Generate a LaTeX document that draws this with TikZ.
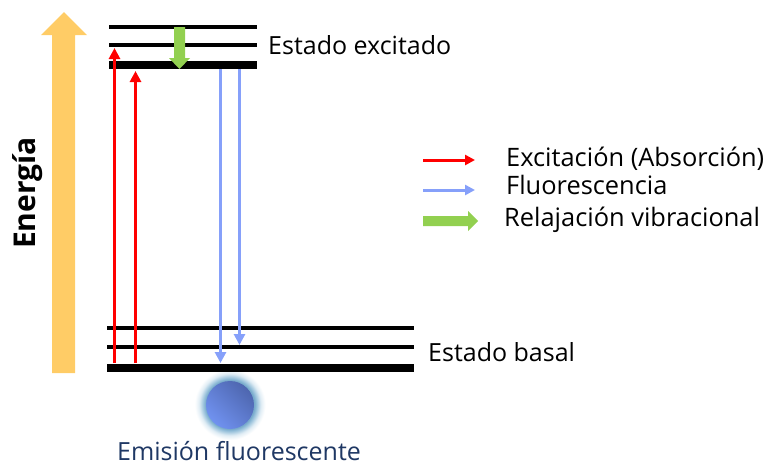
\documentclass[tikz,border=0pt]{standalone}
\usepackage{fontspec}
\setmainfont{Open Sans}
\usetikzlibrary{arrows.meta,shadings}
\definecolor{exred}{RGB}{255,0,0}
\definecolor{flblue}{RGB}{134,160,250}
\definecolor{vibgreen}{RGB}{146,208,80}
\definecolor{enorange}{RGB}{255,204,102}
\definecolor{emnavy}{RGB}{31,56,100}
\definecolor{disclight}{RGB}{112,146,240}
\definecolor{discdark}{RGB}{78,102,175}
\pgfdeclareradialshading{emitglow}{\pgfpoint{0bp}{0bp}}{
  rgb(0bp)=(0.47,0.67,0.80);
  rgb(17bp)=(0.47,0.67,0.80);
  rgb(18.5bp)=(0.60,0.76,0.86);
  rgb(21.5bp)=(0.88,0.93,0.96);
  rgb(24.5bp)=(1,1,1);
  rgb(50bp)=(1,1,1)}
\tikzset{
  level/.style={line width=#1,black,line cap=butt},
  exarrow/.style={exred,line width=3pt,-{Triangle[length=11pt,width=11pt]}},
  flarrow/.style={flblue,line width=3pt,-{Triangle[length=11pt,width=11pt]}},
  lab/.style={anchor=west,inner sep=0pt,text=black,font=\fontsize{25}{30}\selectfont},
  keylab/.style={lab,font=\fontsize{25.4}{30}\selectfont}
}
\begin{document}
\begin{tikzpicture}[x=1pt,y=-1pt]
\useasboundingbox (0,0) rectangle (767,464);
% glow first, so that the levels lie over its white rim
\shade[shading=emitglow] (230,404.5) circle (36);
% energy arrow
\fill[enorange] (52,373) -- (75,373) -- (75,35) -- (87,35) -- (64,12) -- (41,35) -- (52,35) -- cycle;
\node[rotate=90,font=\bfseries\fontsize{30}{34}\selectfont] (energia) at (28,193) {Energía};
% upper levels
\coordinate (u1a) at (109,27); \coordinate (u1b) at (257,27);
\coordinate (u2a) at (109,45); \coordinate (u2b) at (257,45);
\coordinate (u3a) at (109,65); \coordinate (u3b) at (257,65);
\draw[level=4pt] (u1a) -- (u1b);
\draw[level=4pt] (u2a) -- (u2b);
\draw[level=8pt] (u3a) -- (u3b);
% lower levels
\coordinate (l1a) at (107,328); \coordinate (l1b) at (414,328);
\coordinate (l2a) at (107,347); \coordinate (l2b) at (414,347);
\coordinate (l3a) at (107,368); \coordinate (l3b) at (414,368);
\draw[level=4pt] (l1a) -- (l1b);
\draw[level=4pt] (l2a) -- (l2b);
\draw[level=8pt] (l3a) -- (l3b);
% excitation
\coordinate (e1s) at (114.5,363); \coordinate (e1e) at (114.5,48);
\coordinate (e2s) at (135.5,363); \coordinate (e2e) at (135.5,71);
\draw[exarrow] (e1s) -- (e1e);
\draw[exarrow] (e2s) -- (e2e);
% fluorescence
\coordinate (f1s) at (220.5,69); \coordinate (f1e) at (220.5,363);
\coordinate (f2s) at (239.5,69); \coordinate (f2e) at (239.5,345);
\draw[flarrow] (f1s) -- (f1e);
\draw[flarrow] (f2s) -- (f2e);
% relaxation
\fill[vibgreen] (174,27) -- (185,27) -- (185,58) -- (190,58) -- (179.5,69) -- (169,58) -- (174,58) -- cycle;
% emitter
\node[circle,minimum size=48pt,inner sep=0pt,shading=axis,left color=disclight,right color=discdark,shading angle=135] (emit) at (230,405) {};
\node[font=\fontsize{25}{30}\selectfont,text=emnavy,inner sep=0pt,anchor=base] (emlab) at (239,460.5) {Emisión fluorescente};
\node[lab] (excit) at (268,45) {Estado excitado};
\node[lab] (basal) at (428,352) {Estado basal};
% legend
\coordinate (k1a) at (423,160); \coordinate (k1b) at (475,160);
\coordinate (k2a) at (423,190); \coordinate (k2b) at (475,190);
\draw[exarrow,-{Triangle[length=10pt,width=10pt]}] (k1a) -- (k1b);
\draw[flarrow,-{Triangle[length=10pt,width=10pt]}] (k2a) -- (k2b);
\fill[vibgreen] (423,216) -- (468,216) -- (468,211) -- (478,221) -- (468,231) -- (468,226) -- (423,226) -- cycle;
\node[keylab] (t1) at (506,159) {Excitación (Absorción)};
\node[keylab] (t2) at (506,185) {Fluorescencia};
\node[keylab] (t3) at (504,220) {Relajación vibracional};
\end{tikzpicture}
\end{document}
